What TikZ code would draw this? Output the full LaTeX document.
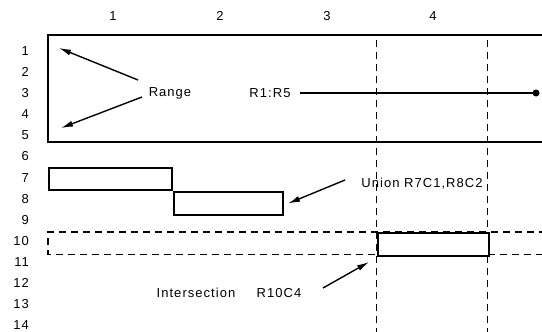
\documentclass[tikz,border=0pt]{standalone}
\usepackage{fontspec}
\setmainfont{Liberation Sans}[LetterSpace=8]
\usetikzlibrary{arrows.meta}
\begin{document}
\begin{tikzpicture}[x=1pt,y=-1pt,
  font=\fontsize{13}{15}\selectfont,
  box/.style={line width=2pt},
  dsh/.style={line width=1.3pt, dash pattern=on 7pt off 5pt},
  arr/.style={line width=1.4pt, -{Latex[length=12pt,width=6pt]}},
  lbl/.style={inner sep=0pt}]
\useasboundingbox (0,0) rectangle (542,332);
% column labels
\node[lbl] (col1) at (113,16) {1};
\node[lbl] (col2) at (220,16) {2};
\node[lbl] (col3) at (327,16) {3};
\node[lbl] (col4) at (433,16) {4};
% row labels
\foreach \r in {1,...,14}
  \node[lbl, anchor=east] (row\r) at (29,{51+(\r-1)*21.1}) {\r};
% dashed column guides
\coordinate (v1top) at (376.7,40);
\coordinate (v1bot) at (376.7,333);
\coordinate (v2top) at (487.7,40);
\coordinate (v2bot) at (487.7,333);
\draw[dsh] (v1top) -- (v1bot);
\draw[dsh] (v2top) -- (v2bot);
% range box (open to the right)
\draw[box] (546,35) -- (48,35) -- (48,141.5) -- (546,141.5);
% dashed row 10
\draw[dsh] (546,232) -- (48,232) -- (48,254.5) -- (546,254.5);
% intersection box
\node[draw, box, fill=white, minimum width=111pt, minimum height=22.5pt, inner sep=0pt, anchor=north west] (isect) at (376.7,232) {};
% union boxes
\node[draw, box, minimum width=123pt, minimum height=22pt, inner sep=0pt, anchor=north west] (u1) at (48,167) {};
\node[draw, box, minimum width=109pt, minimum height=23pt, inner sep=0pt, anchor=north west] (u2) at (u1.south east) {};
% texts
\node[lbl] (range) at (170,93) {Range};
\node[lbl] (r1r5) at (270,93) {R1:R5};
\node[lbl] (union) at (422,184) {Union R7C1,R8C2};
\node[lbl] (inter) at (196,293) {Intersection};
\node[lbl] (r10c4) at (279,293) {R10C4};
% range arrows
\coordinate (ra1) at (138,80);
\coordinate (rt1) at (59,48);
\coordinate (ra2) at (142,97);
\coordinate (rt2) at (61,128);
\draw[arr] (ra1) -- (rt1);
\draw[arr] (ra2) -- (rt2);
% R1:R5 line with dot
\coordinate (lstart) at (300,93);
\node[circle, fill, inner sep=0pt, minimum size=7pt] (dot) at (536,93) {};
\draw[line width=1.3pt] (lstart) -- (dot.center);
% union arrow
\coordinate (ua) at (345,180);
\draw[arr] (ua) -- ([xshift=4pt]u2.east);
% intersection arrow
\coordinate (ia) at (323,288);
\coordinate (it) at (369,262);
\draw[arr] (ia) -- (it);
\end{tikzpicture}
\end{document}
